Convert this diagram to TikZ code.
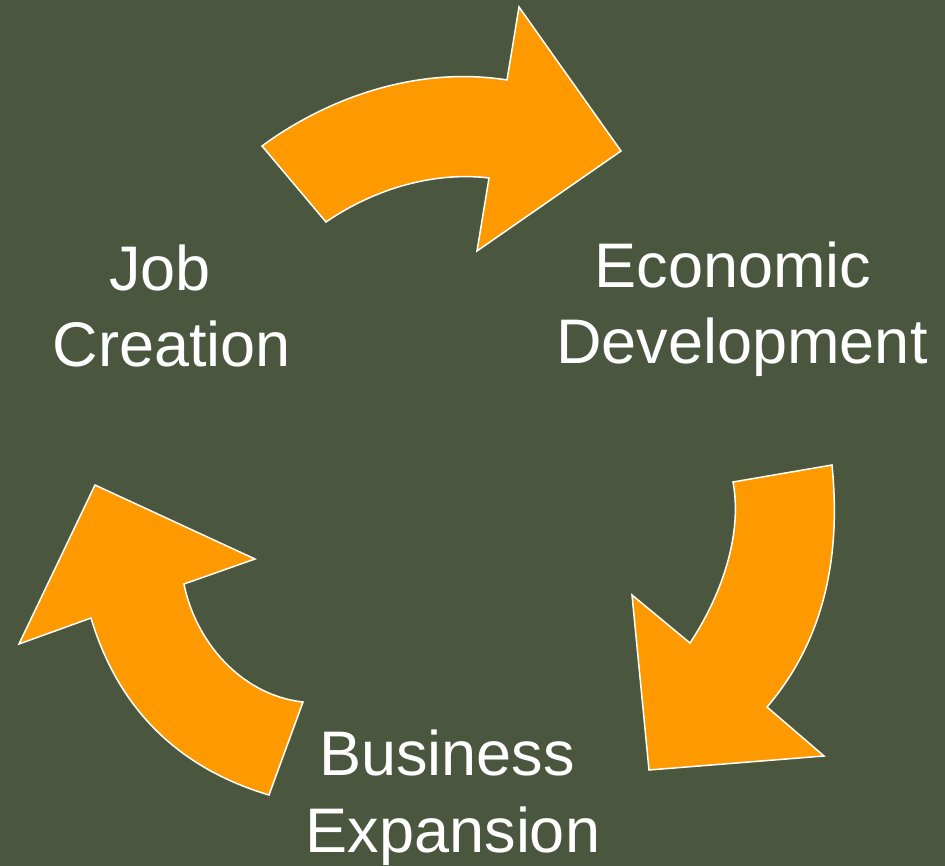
\documentclass[tikz,border=0pt]{standalone}
\usepackage{fontspec}
\setmainfont{Liberation Sans}
\definecolor{bgolive}{RGB}{75,86,62}
\definecolor{arroworange}{RGB}{255,153,0}
\begin{document}
\begin{tikzpicture}[x=1pt,y=-1pt,
  cyclearrow/.style={fill=arroworange,draw=white,line width=1.5pt,line join=miter},
  lbl/.style={text=white,align=center,inner sep=0pt,anchor=base,font=\fontsize{63}{77}\selectfont}]
\fill[bgolive] (0,0) rectangle (945,866);
\useasboundingbox (0,0) rectangle (945,866);
% top arrow
\draw[cyclearrow] (262,146) -- (326,222) .. controls (380,185) and (440,172) .. (489,178)
  -- (477,251) -- (621,151) -- (519,7) -- (507,80) .. controls (420,66) and (330,96) .. (262,146) -- cycle;
% right arrow
\draw[cyclearrow] (832,465) -- (733,482) .. controls (742,530) and (725,590) .. (690,643)
  -- (632,595) -- (649,770) -- (824,756) -- (767,707) .. controls (820,645) and (842,565) .. (832,465) -- cycle;
% left arrow
\draw[cyclearrow] (95,485) -- (255,559) -- (184,584) .. controls (195,640) and (240,695) .. (303,702)
  -- (269,795) .. controls (185,770) and (120,715) .. (91,618) -- (19,644) -- cycle;
% labels
\node[lbl] (job) at (172,367) {Job\hspace*{24pt}\\Creation};
\node[lbl] (eco) at (742,364) {Economic\hspace*{18pt}\\Development};
\node[lbl] (bus) at (453,852) {Business\hspace*{12pt}\\Expansion};
\end{tikzpicture}
\end{document}
